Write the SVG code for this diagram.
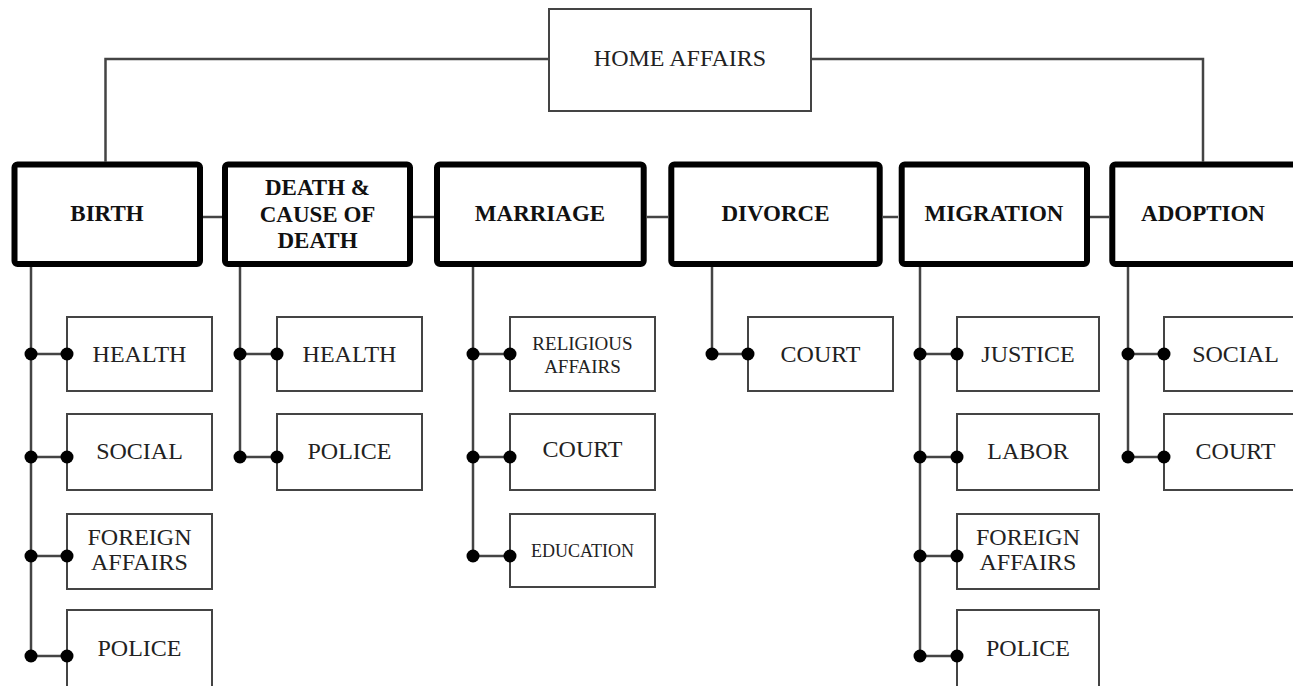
<svg xmlns="http://www.w3.org/2000/svg" width="1293" height="686" viewBox="0 0 1293 686">
<style>
  .bg{fill:#fff}
  .main rect{fill:#fff;stroke:#000;stroke-width:6}
  .main text{font-family:"Liberation Serif","Times New Roman",serif;font-weight:bold;font-size:23px;fill:#111;text-anchor:middle}
  .sub rect{fill:#fff;stroke:#444;stroke-width:2}
  .sub text{font-family:"Liberation Serif","Times New Roman",serif;font-size:24px;fill:#222;text-anchor:middle}
  .sub text.sm{font-size:19px}
  .sub text.xs{font-size:18px}
  .top rect{fill:#fff;stroke:#444;stroke-width:2}
  .top text{font-family:"Liberation Serif","Times New Roman",serif;font-size:24px;fill:#222;text-anchor:middle}
  .conn line,.conn polyline{stroke:#444;stroke-width:2.5;fill:none}
  .conn circle{fill:#000}
</style>
<rect class="bg" x="0" y="0" width="1293" height="686"/>
<g id="home-affairs" class="top"><rect x="549" y="9" width="262" height="102"/><text x="680" y="66">HOME AFFAIRS</text></g>

<g id="birth" class="main"><rect x="14.5" y="164.5" width="185.5" height="99.5" rx="3"/><text x="107" y="221">BIRTH</text></g>
<g id="death" class="main"><rect x="225" y="164.5" width="185" height="99.5" rx="3"/><text x="317.5" y="195">DEATH &amp;</text><text x="317.5" y="222">CAUSE OF</text><text x="317.5" y="248">DEATH</text></g>
<g id="marriage" class="main"><rect x="437" y="164.5" width="206.7" height="99.5" rx="3"/><text x="540" y="221">MARRIAGE</text></g>
<g id="divorce" class="main"><rect x="671.3" y="164.5" width="208.4" height="99.5" rx="3"/><text x="775.5" y="221">DIVORCE</text></g>
<g id="migration" class="main"><rect x="901.7" y="164.5" width="185.3" height="99.5" rx="3"/><text x="994" y="221">MIGRATION</text></g>
<g id="adoption" class="main"><rect x="1112.3" y="164.5" width="186" height="99.5" rx="3"/><text x="1203" y="221">ADOPTION</text></g>

<g id="birth-health" class="sub"><rect x="67" y="317" width="145" height="74"/><text x="139.5" y="362">HEALTH</text></g>
<g id="birth-social" class="sub"><rect x="67" y="414" width="145" height="76"/><text x="139.5" y="459">SOCIAL</text></g>
<g id="birth-foreign" class="sub"><rect x="67" y="514" width="145" height="75"/><text x="139.5" y="545">FOREIGN</text><text x="139.5" y="570">AFFAIRS</text></g>
<g id="birth-police" class="sub"><rect x="67" y="610" width="145" height="90"/><text x="139.5" y="656">POLICE</text></g>

<g id="death-health" class="sub"><rect x="277" y="317" width="145" height="74"/><text x="349.5" y="362">HEALTH</text></g>
<g id="death-police" class="sub"><rect x="277" y="414" width="145" height="76"/><text x="349.5" y="459">POLICE</text></g>

<g id="marriage-religious" class="sub"><rect x="510" y="317" width="145" height="74"/><text class="sm" x="582.5" y="350">RELIGIOUS</text><text class="sm" x="582.5" y="373">AFFAIRS</text></g>
<g id="marriage-court" class="sub"><rect x="510" y="414" width="145" height="76"/><text x="582.5" y="457">COURT</text></g>
<g id="marriage-education" class="sub"><rect x="510" y="514" width="145" height="73"/><text class="xs" x="582.5" y="557">EDUCATION</text></g>

<g id="divorce-court" class="sub"><rect x="748" y="317" width="145" height="74"/><text x="820.5" y="362">COURT</text></g>

<g id="migration-justice" class="sub"><rect x="957" y="317" width="142" height="74"/><text x="1028" y="362">JUSTICE</text></g>
<g id="migration-labor" class="sub"><rect x="957" y="414" width="142" height="76"/><text x="1028" y="459">LABOR</text></g>
<g id="migration-foreign" class="sub"><rect x="957" y="514" width="142" height="75"/><text x="1028" y="545">FOREIGN</text><text x="1028" y="570">AFFAIRS</text></g>
<g id="migration-police" class="sub"><rect x="957" y="610" width="142" height="90"/><text x="1028" y="656">POLICE</text></g>

<g id="adoption-social" class="sub"><rect x="1164" y="317" width="143" height="74"/><text x="1235.5" y="362">SOCIAL</text></g>
<g id="adoption-court" class="sub"><rect x="1164" y="414" width="143" height="76"/><text x="1235.5" y="459">COURT</text></g>

<g id="connectors" class="conn">
  <polyline points="105.5,162 105.5,59 549,59"/>
  <polyline points="811,59 1203,59 1203,162"/>
  <line x1="203" y1="217" x2="222" y2="217"/>
  <line x1="413" y1="217" x2="434" y2="217"/>
  <line x1="647" y1="217" x2="668" y2="217"/>
  <line x1="883" y1="217" x2="898" y2="217"/>
  <line x1="1090" y1="217" x2="1109" y2="217"/>
  <line x1="31" y1="267" x2="31" y2="656"/>
  <line x1="240" y1="267" x2="240" y2="457"/>
  <line x1="473" y1="267" x2="473" y2="556"/>
  <line x1="712" y1="267" x2="712" y2="354"/>
  <line x1="920" y1="267" x2="920" y2="656"/>
  <line x1="1128" y1="267" x2="1128" y2="457"/>
  <line x1="31" y1="354" x2="67" y2="354"/><circle cx="31" cy="354" r="6.5"/><circle cx="67" cy="354" r="6.5"/>
  <line x1="31" y1="457" x2="67" y2="457"/><circle cx="31" cy="457" r="6.5"/><circle cx="67" cy="457" r="6.5"/>
  <line x1="31" y1="556" x2="67" y2="556"/><circle cx="31" cy="556" r="6.5"/><circle cx="67" cy="556" r="6.5"/>
  <line x1="31" y1="656" x2="67" y2="656"/><circle cx="31" cy="656" r="6.5"/><circle cx="67" cy="656" r="6.5"/>
  <line x1="240" y1="354" x2="277" y2="354"/><circle cx="240" cy="354" r="6.5"/><circle cx="277" cy="354" r="6.5"/>
  <line x1="240" y1="457" x2="277" y2="457"/><circle cx="240" cy="457" r="6.5"/><circle cx="277" cy="457" r="6.5"/>
  <line x1="473" y1="354" x2="510" y2="354"/><circle cx="473" cy="354" r="6.5"/><circle cx="510" cy="354" r="6.5"/>
  <line x1="473" y1="457" x2="510" y2="457"/><circle cx="473" cy="457" r="6.5"/><circle cx="510" cy="457" r="6.5"/>
  <line x1="473" y1="556" x2="510" y2="556"/><circle cx="473" cy="556" r="6.5"/><circle cx="510" cy="556" r="6.5"/>
  <line x1="712" y1="354" x2="748" y2="354"/><circle cx="712" cy="354" r="6.5"/><circle cx="748" cy="354" r="6.5"/>
  <line x1="920" y1="354" x2="957" y2="354"/><circle cx="920" cy="354" r="6.5"/><circle cx="957" cy="354" r="6.5"/>
  <line x1="920" y1="457" x2="957" y2="457"/><circle cx="920" cy="457" r="6.5"/><circle cx="957" cy="457" r="6.5"/>
  <line x1="920" y1="556" x2="957" y2="556"/><circle cx="920" cy="556" r="6.5"/><circle cx="957" cy="556" r="6.5"/>
  <line x1="920" y1="656" x2="957" y2="656"/><circle cx="920" cy="656" r="6.5"/><circle cx="957" cy="656" r="6.5"/>
  <line x1="1128" y1="354" x2="1164" y2="354"/><circle cx="1128" cy="354" r="6.5"/><circle cx="1164" cy="354" r="6.5"/>
  <line x1="1128" y1="457" x2="1164" y2="457"/><circle cx="1128" cy="457" r="6.5"/><circle cx="1164" cy="457" r="6.5"/>
</g>
</svg>
